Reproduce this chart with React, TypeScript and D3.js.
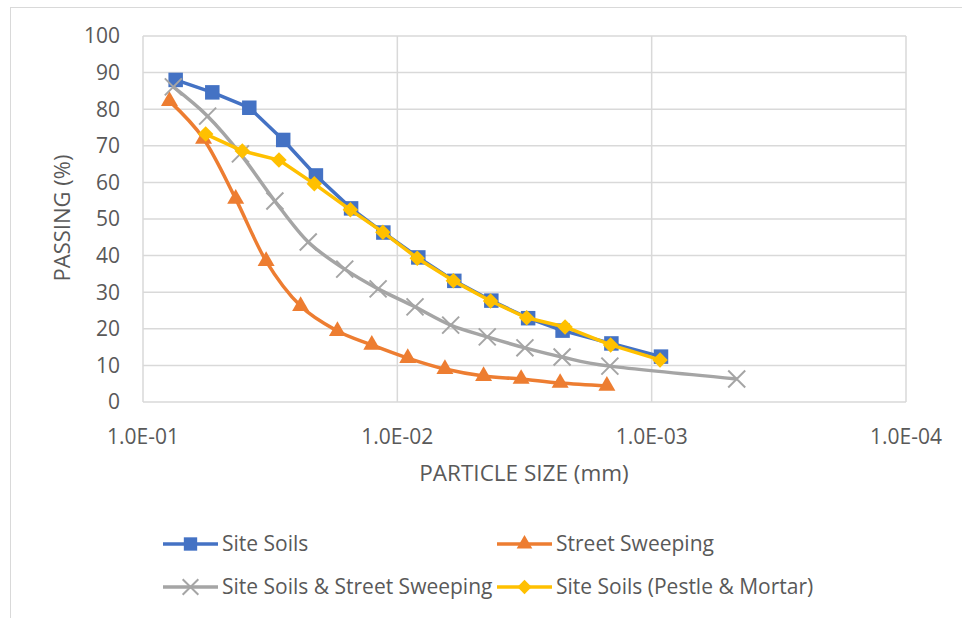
import { useEffect, useRef } from "react";
import * as d3 from "d3";

// particle size (mm) and passing (%) per sample
const siteSize = [0.0744, 0.0534, 0.0382, 0.0281, 0.0209, 0.0152, 0.01135, 0.00827, 0.00597, 0.00427, 0.00306, 0.00224, 0.00144, 0.000919];
const sitePass = [88.0, 84.6, 80.4, 71.6, 61.9, 52.9, 46.3, 39.5, 33.1, 27.7, 22.9, 19.5, 16.0, 12.4];

const streetSize = [0.0787, 0.0578, 0.0432, 0.0328, 0.024, 0.0172, 0.0126, 0.0091, 0.0065, 0.00458, 0.00326, 0.00229, 0.0015];
const streetPass = [82.2, 71.9, 55.5, 38.5, 26.2, 19.4, 15.6, 12.0, 9.0, 7.1, 6.3, 5.2, 4.4];

const mixSize = [0.076, 0.0557, 0.0414, 0.0303, 0.0224, 0.0161, 0.0119, 0.00852, 0.00617, 0.00443, 0.00315, 0.00225, 0.00146, 0.000463];
const mixPass = [86.1, 78.1, 67.8, 54.9, 43.7, 36.3, 30.9, 26.0, 21.0, 17.8, 14.8, 12.3, 9.8, 6.3];

const pestleSize = [0.0567, 0.0407, 0.0292, 0.0212, 0.0153, 0.0114, 0.00835, 0.00602, 0.0043, 0.0031, 0.00219, 0.00145, 0.000927];
const pestlePass = [73.2, 68.6, 66.1, 59.6, 52.5, 46.4, 39.3, 33.1, 27.6, 23.0, 20.5, 15.6, 11.5];

const xTicks = [0.1, 0.01, 0.001, 0.0001];
const xTickLabels = ["1.0E-01", "1.0E-02", "1.0E-03", "1.0E-04"];
const yTicks = [0, 10, 20, 30, 40, 50, 60, 70, 80, 90, 100];

const FONT = "'Open Sans', sans-serif";
const TEXT = "#595959";

export default function App() {
  const svgRef = useRef<SVGSVGElement | null>(null);

  useEffect(() => {
    const svg = d3.select(svgRef.current);
    svg.selectAll("*").remove();

    const margin = { top: 36, right: 56, bottom: 216, left: 143 };
    const width = 962;
    const height = 618;

    const x = d3.scaleLog().domain([0.1, 0.0001]).range([margin.left, width - margin.right]);
    const y = d3.scaleLinear().domain([0, 100]).range([height - margin.bottom, margin.top]);

    // chart border
    svg
      .append("rect")
      .attr("x", 10.5)
      .attr("y", 7.5)
      .attr("width", 960)
      .attr("height", 620)
      .attr("fill", "white")
      .attr("stroke", "#D9D9D9")
      .attr("stroke-width", 1);

    // gridlines
    const grid = svg.append("g").attr("stroke", "#D9D9D9").attr("stroke-width", 1.5);
    yTicks.forEach((t) => {
      grid
        .append("line")
        .attr("x1", x(0.1))
        .attr("x2", x(0.0001))
        .attr("y1", y(t))
        .attr("y2", y(t));
    });
    xTicks.forEach((t) => {
      grid
        .append("line")
        .attr("x1", x(t))
        .attr("x2", x(t))
        .attr("y1", y(0))
        .attr("y2", y(100));
    });

    // tick labels
    svg
      .append("g")
      .selectAll("text")
      .data(yTicks)
      .join("text")
      .attr("x", 120)
      .attr("y", (d) => y(d))
      .attr("dy", "0.35em")
      .attr("text-anchor", "end")
      .attr("font-family", FONT)
      .attr("font-size", 21)
      .attr("fill", TEXT)
      .text((d) => d);

    svg
      .append("g")
      .selectAll("text")
      .data(xTicks)
      .join("text")
      .attr("x", (d) => x(d))
      .attr("y", 437)
      .attr("dy", "0.35em")
      .attr("text-anchor", "middle")
      .attr("font-family", FONT)
      .attr("font-size", 21)
      .attr("fill", TEXT)
      .text((d, i) => xTickLabels[i]);

    // axis titles
    svg
      .append("text")
      .attr("x", 524)
      .attr("y", 473)
      .attr("dy", "0.35em")
      .attr("text-anchor", "middle")
      .attr("font-family", FONT)
      .attr("font-size", 22.5)
      .attr("fill", TEXT)
      .text("PARTICLE SIZE (mm)");

    svg
      .append("text")
      .attr("transform", "translate(62,218) rotate(-90)")
      .attr("dy", "0.35em")
      .attr("text-anchor", "middle")
      .attr("font-family", FONT)
      .attr("font-size", 22)
      .attr("fill", TEXT)
      .text("PASSING (%)");

    const series = [
      { name: "Site Soils", size: siteSize, pass: sitePass, color: "#4472C4", curve: d3.curveLinear, symbol: d3.symbolSquare, area: 210, rotate: 0, stroke: false },
      { name: "Street Sweeping", size: streetSize, pass: streetPass, color: "#ED7D31", curve: d3.curveCatmullRom.alpha(0), symbol: d3.symbolTriangle, area: 125, rotate: 0, stroke: false },
      { name: "Site Soils & Street Sweeping", size: mixSize, pass: mixPass, color: "#A5A5A5", curve: d3.curveCatmullRom.alpha(0), symbol: d3.symbolX, area: 190, rotate: 0, stroke: true },
      { name: "Site Soils (Pestle & Mortar)", size: pestleSize, pass: pestlePass, color: "#FFC000", curve: d3.curveLinear, symbol: d3.symbolSquare, area: 120, rotate: 45, stroke: false },
    ];

    series.forEach((s) => {
      const pts: [number, number][] = s.size.map((v, i) => [x(v), y(s.pass[i])]);
      const line = d3.line().curve(s.curve);
      const g = svg.append("g");
      g.append("path")
        .attr("d", line(pts))
        .attr("fill", "none")
        .attr("stroke", s.color)
        .attr("stroke-width", 3.5)
        .attr("stroke-linejoin", "round");
      const sym = d3.symbol().type(s.symbol).size(s.area);
      g.selectAll("path.m")
        .data(pts)
        .join("path")
        .attr("class", "m")
        .attr("transform", (d) => `translate(${d[0]},${d[1]}) rotate(${s.rotate})`)
        .attr("d", sym())
        .attr("fill", s.stroke ? "none" : s.color)
        .attr("stroke", s.stroke ? s.color : "none")
        .attr("stroke-width", 2);
    });

    // legend
    const legendPos = [
      [163, 544],
      [497, 544],
      [163, 587],
      [497, 587],
    ];
    series.forEach((s, i) => {
      const [lx, ly] = legendPos[i];
      const g = svg.append("g").attr("transform", `translate(${lx},${ly})`);
      g.append("line")
        .attr("x1", 0)
        .attr("x2", 55)
        .attr("stroke", s.color)
        .attr("stroke-width", 3.5);
      g.append("path")
        .attr("transform", `translate(27.5,0) rotate(${s.rotate})`)
        .attr("d", d3.symbol().type(s.symbol).size(s.area * 0.85)())
        .attr("fill", s.stroke ? "none" : s.color)
        .attr("stroke", s.stroke ? s.color : "none")
        .attr("stroke-width", 2);
      g.append("text")
        .attr("x", 59)
        .attr("dy", "0.35em")
        .attr("font-family", FONT)
        .attr("font-size", 21)
        .attr("fill", TEXT)
        .text(s.name);
    });
  }, []);

  return (
    <div style={{ position: "absolute", left: 0, top: 0 }}>
      <svg ref={svgRef} width={962} height={618} style={{ display: "block" }}></svg>
    </div>
  );
}
